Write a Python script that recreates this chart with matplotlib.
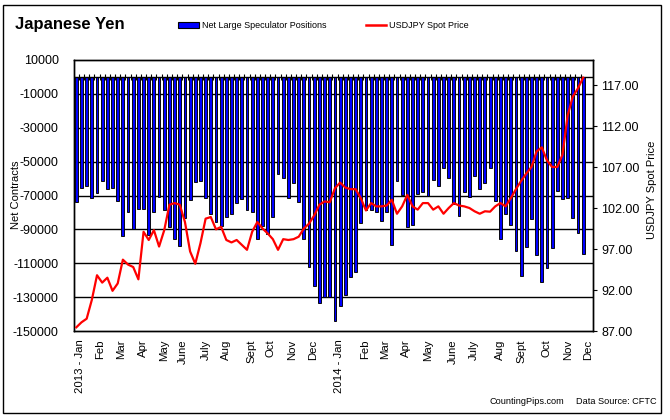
import matplotlib
matplotlib.use('Agg')
import matplotlib.pyplot as plt
import numpy as np
from matplotlib.patches import Rectangle
from matplotlib.lines import Line2D

plt.rcParams['font.family'] = ['Liberation Sans', 'DejaVu Sans']

# weekly net large speculator positions (contracts), Jan 2013 - Dec 2014
net_positions = [
    -74000, -65700, -64100, -71600, -68600, -61500, -65900, -65700, -73300, -94000,
    -80000, -89500, -78000, -77700, -93400, -80000, -71000, -78600, -88700, -95400,
    -100000, -83000, -72900, -62300, -61700, -71200, -80800, -85900, -87900, -82400,
    -80800, -74700, -71800, -78800, -80000, -95400, -87900, -92600, -82400, -57600,
    -59400, -71600, -62900, -74100, -95400, -112500, -123700, -133500, -130000, -130000,
    -144300, -135500, -129000, -118200, -115400, -86500, -78400, -78400, -79800, -85300,
    -79800, -99400, -61300, -69600, -88800, -87400, -68900, -67700, -70500, -61100,
    -64600, -54000, -59400, -74800, -82300, -68200, -71100, -58700, -66400, -62900,
    -54000, -73500, -95400, -81000, -87700, -103000, -117800, -100600, -83600, -105400,
    -121100, -113000, -101200, -67600, -71800, -71600, -83000, -92200, -104600,
]

# USDJPY spot price at each week
spot_price = [
    87.45, 88.06, 88.5, 90.8, 93.8, 92.9, 93.5, 91.9, 92.8, 95.7,
    95.1, 94.8, 93.3, 99.1, 98.1, 99.3, 97.3, 99.3, 102.4, 102.6,
    102.4, 100.3, 96.7, 95.2, 97.7, 100.7, 100.9, 99.4, 99.7, 98.1,
    97.8, 98.1, 97.5, 96.9, 99.1, 100.3, 99.5, 98.9, 98.2, 96.9,
    98.2, 98.1, 98.2, 98.5, 99.5, 100.1, 101.1, 102.4, 102.8, 102.7,
    104.4, 105.1, 104.5, 104.3, 104.3, 103.2, 101.7, 102.6, 102.2, 102.2,
    102.3, 103.0, 101.3, 102.2, 103.6, 102.2, 101.8, 102.6, 102.6, 101.8,
    102.2, 101.3, 102.0, 102.6, 102.3, 102.2, 102.0, 101.6, 101.3, 101.6,
    101.55, 102.2, 102.6, 102.2, 103.2, 104.3, 105.3, 106.2, 107.0, 108.9,
    109.4, 107.8, 107.0, 107.0, 108.5, 113.3, 115.6, 116.6, 117.9,
]

month_labels = ['2013 - Jan', 'Feb', 'Mar', 'Apr', 'May', 'June', 'July', 'Aug',
                'Sept', 'Oct', 'Nov', 'Dec', '2014 - Jan', 'Feb', 'Mar', 'Apr',
                'May', 'June', 'July', 'Aug', 'Sept', 'Oct', 'Nov', 'Dec']
month_weeks = [0.7, 4.6, 8.6, 12.9, 16.9, 20.6, 25.0, 28.9, 33.8, 37.6, 41.7, 45.8,
               50.8, 55.8, 59.7, 63.8, 68.0, 72.9, 76.9, 81.9, 86.0, 90.9, 95.1, 98.9]

W, H = 670, 420
n = len(net_positions)
x = np.arange(n)

fig = plt.figure(figsize=(W / 100, H / 100), dpi=100)
ax = fig.add_axes([74 / W, 1 - 331 / H, (593 - 74) / W, (331 - 60) / H])
ax.set_xlim(-0.45, 99.9)
ax.set_ylim(-150000, 10000)

# gridlines
for y in range(-130000, 0, 20000):
    ax.axhline(y, color='black', lw=1, zorder=1)
ax.axhline(0, color='black', lw=1, zorder=3)

ax.bar(x, net_positions, width=0.55, color='#0000FF', edgecolor='black', lw=0.65, zorder=2)
ax.vlines(x[:-1] + 0.5, -1800, 1800, color='black', lw=0.8, zorder=3)

ax.set_yticks(range(-150000, 10001, 20000))
ax.set_yticklabels([str(v) for v in range(-150000, 10001, 20000)], fontsize=9)
ax.tick_params(axis='y', length=0, pad=11)
ax.set_xticks(month_weeks)
ax.set_xticklabels(month_labels, rotation=90, fontsize=8.2)
ax.tick_params(axis='x', length=0, pad=6)
for s in ax.spines.values():
    s.set_linewidth(1)
    s.set_color('black')

ax2 = ax.twinx()
ax2.set_ylim(87, 120.05)
ax2.plot(x, spot_price, color='#FF0000', lw=1.6, zorder=5)
ax2.set_yticks(np.arange(87, 118, 5))
ax2.set_yticklabels(['%.2f' % v for v in np.arange(87, 118, 5)], fontsize=9)
ax2.tick_params(axis='y', length=3, width=0.8, pad=3)
for s in ax2.spines.values():
    s.set_linewidth(1)

# axis titles
fig.text(16 / W, 1 - 195 / H, 'Net Contracts', rotation=90, fontsize=8, ha='center', va='center')
fig.text(652 / W, 1 - 190 / H, 'USDJPY Spot Price', rotation=90, fontsize=8, ha='center', va='center')

# title and legend
fig.text(15 / W, 1 - 25 / H, 'Japanese Yen', fontsize=12, fontweight='bold', va='center')
fig.patches.append(Rectangle((178 / W, 1 - 28 / H), 21 / W, 6 / H, transform=fig.transFigure,
                             facecolor='#0000FF', edgecolor='black', lw=0.8))
fig.text(202 / W, 1 - 25 / H, 'Net Large Speculator Positions', fontsize=6.5, va='center')
fig.lines.append(Line2D([366 / W, 386 / W], [1 - 25 / H, 1 - 25 / H], transform=fig.transFigure,
                        color='#FF0000', lw=1.8))
fig.text(389 / W, 1 - 25 / H, 'USDJPY Spot Price', fontsize=6.5, va='center')

# footer
fig.text(489 / W, 1 - 401 / H, 'CountingPips.com', fontsize=6.6, va='center')
fig.text(576 / W, 1 - 401 / H, 'Data Source: CFTC', fontsize=6.6, va='center')

# outer frame
fig.patches.append(Rectangle((3 / W, 7 / H), 658 / W, 408 / H, transform=fig.transFigure,
                             fill=False, edgecolor='black', lw=1))

fig.savefig('out.png', dpi=100)
